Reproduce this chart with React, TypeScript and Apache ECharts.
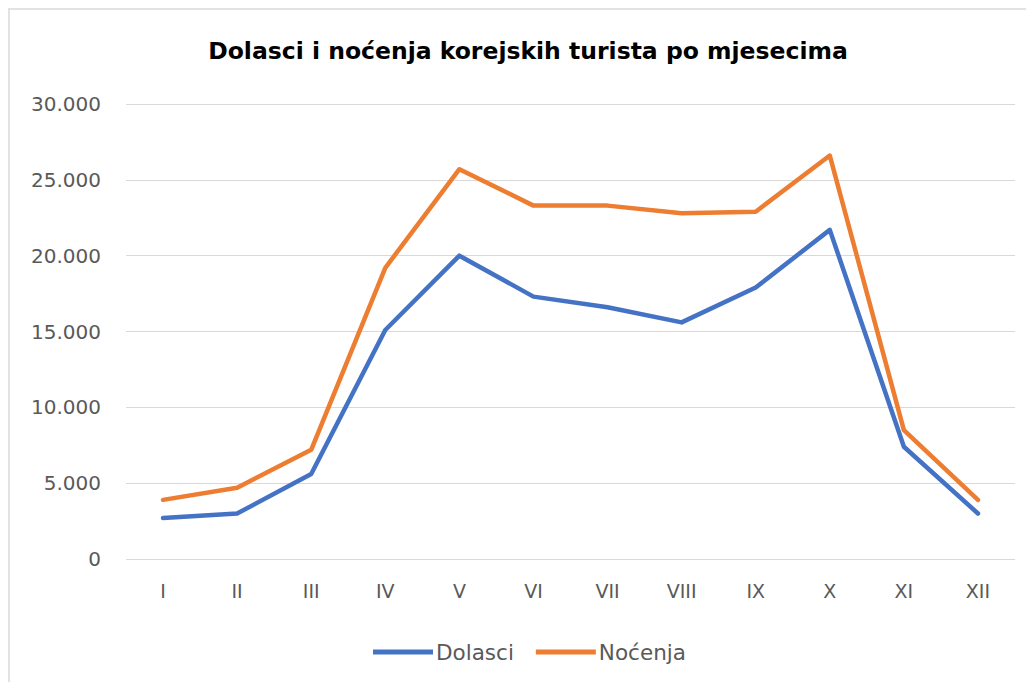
import React, { useEffect, useRef } from "react";
import * as echarts from "echarts";

const months = ["I", "II", "III", "IV", "V", "VI", "VII", "VIII", "IX", "X", "XI", "XII"];
const dolasci = [2700, 3000, 5600, 15100, 20000, 17300, 16600, 15600, 17900, 21700, 7400, 3000];
const nocenja = [3900, 4700, 7200, 19200, 25700, 23300, 23300, 22800, 22900, 26600, 8500, 3900];
const titleText = "Dolasci i noćenja korejskih turista po mjesecima";

const labelFont = "'DejaVu Sans', sans-serif";

export default function App() {
  const ref = useRef<HTMLDivElement>(null);
  useEffect(() => {
    if (!ref.current) return;
    const chart = echarts.init(ref.current, null, { renderer: "svg" });
    chart.setOption({
      animation: false,
      backgroundColor: "#ffffff",
      title: {
        text: titleText,
        left: 513,
        top: 24,
        textAlign: "center",
        textStyle: {
          fontFamily: "'DejaVu Sans', sans-serif",
          fontWeight: "bold",
          fontSize: 23.5,
          color: "#000000",
        },
      },
      grid: { left: 116, right: 11, top: 94, bottom: 123 },
      legend: {
        left: 358,
        top: 626,
        itemWidth: 60,
        itemHeight: 18,
        itemGap: 22,
        data: [
          { name: "Dolasci", icon: "path://M0,0 L60,0 L60,5 L0,5 Z" },
          { name: "Noćenja", icon: "path://M0,0 L60,0 L60,5 L0,5 Z" },
        ],
        textStyle: { fontFamily: labelFont, fontSize: 21.5, color: "#595959", padding: [0, 0, 0, -2] },
      },
      xAxis: {
        type: "category",
        data: months,
        boundaryGap: true,
        axisLine: { show: false },
        axisTick: { show: false },
        axisLabel: { fontFamily: labelFont, fontSize: 19, color: "#595959", margin: 22 },
      },
      yAxis: {
        type: "value",
        min: 0,
        max: 30000,
        interval: 5000,
        axisLine: { show: false },
        axisTick: { show: false },
        splitLine: { lineStyle: { color: "#d9d9d9", width: 1 } },
        axisLabel: {
          fontFamily: labelFont,
          fontSize: 20,
          color: "#595959",
          margin: 25,
          formatter: (v: number) => (v === 0 ? "0" : v.toLocaleString("de-DE")),
        },
      },
      series: [
        {
          name: "Dolasci",
          type: "line",
          data: dolasci,
          showSymbol: false,
          symbol: "none",
          lineStyle: { color: "#4472C4", width: 4.5, cap: "round", join: "round" },
          itemStyle: { color: "#4472C4" },
        },
        {
          name: "Noćenja",
          type: "line",
          data: nocenja,
          showSymbol: false,
          symbol: "none",
          lineStyle: { color: "#ED7D31", width: 4.5, cap: "round", join: "round" },
          itemStyle: { color: "#ED7D31" },
        },
      ],
    });
    return () => chart.dispose();
  }, []);

  return (
    <div
      style={{
        width: 1016,
        height: 672,
        borderTop: "2px solid #e2e2e2",
        borderLeft: "2px solid #e2e2e2",
      }}
    >
      <div ref={ref} style={{ width: 1016, height: 672 }} />
    </div>
  );
}
